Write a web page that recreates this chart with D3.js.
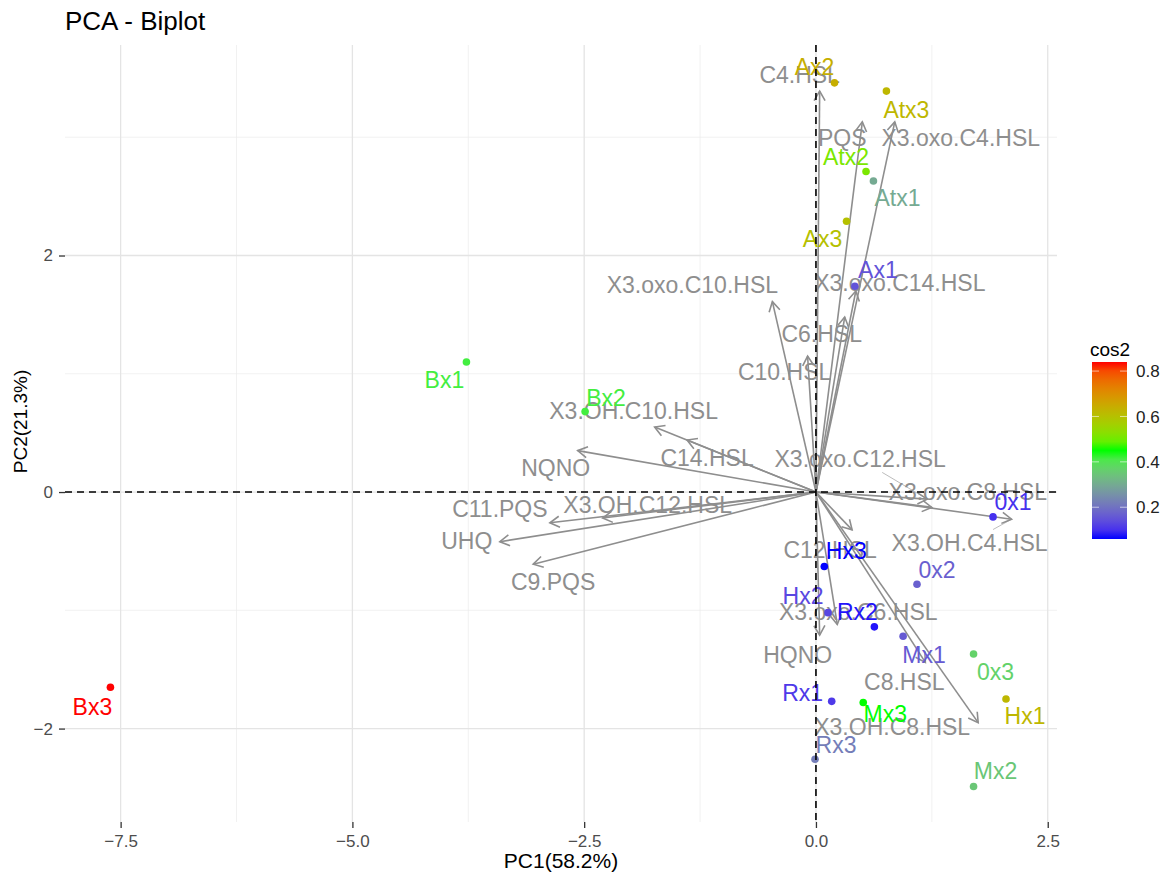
<!DOCTYPE html>
<html>
<head>
<meta charset="utf-8">
<script src="https://cdn.jsdelivr.net/npm/d3@7"></script>
<style>
  html, body { margin: 0; padding: 0; background: #ffffff; }
  svg { display: block; font-family: "Liberation Sans", Arial, sans-serif; }
</style>
</head>
<body>
<svg id="chart" width="1175" height="879"></svg>
<script>
// ---------------- DATA ----------------
const chartTitle = "PCA - Biplot";
const xTitle = "PC1(58.2%)";
const yTitle = "PC2(21.3%)";
const legendTitle = "cos2";

const xTicks = [-7.5, -5.0, -2.5, 0.0, 2.5];
const xMinorTicks = [-6.25, -3.75, -1.25, 1.25];
const yTicks = [-2, 0, 2];
const yMinorTicks = [-1, 1, 3];
const legendTicks = [0.2, 0.4, 0.6, 0.8];

// Variables (arrows)
const varNames = ["C4.HSL", "PQS", "X3.oxo.C4.HSL", "X3.oxo.C10.HSL", "X3.oxo.C14.HSL",
  "C6.HSL", "C10.HSL", "X3.OH.C10.HSL", "C14.HSL", "NQNO", "X3.oxo.C12.HSL",
  "X3.oxo.C8.HSL", "C11.PQS", "X3.OH.C12.HSL", "UHQ", "X3.OH.C4.HSL", "C9.PQS",
  "C12.HSL", "X3.oxo.C6.HSL", "HQNO", "C8.HSL", "X3.OH.C8.HSL"];
const varPC1 = [0.04, 0.50, 0.85, -0.47, 0.43, 0.31, -0.09, -1.74, -1.39, -2.57, 1.20,
  1.25, -2.87, -2.30, -3.41, 2.11, -3.05, 0.39, 0.23, 0.04, 1.18, 1.75];
const varPC2 = [3.39, 3.13, 3.13, 1.61, 1.70, 1.48, 1.15, 0.55, 0.44, 0.35, -0.06,
  -0.13, -0.26, -0.22, -0.42, -0.23, -0.61, -0.32, -1.12, -1.21, -1.44, -1.95];

// Individuals (points)
const indNames = ["Ax2", "Atx3", "Atx2", "Atx1", "Ax3", "Ax1", "Bx1", "Bx2", "Bx3",
  "0x1", "Hx3", "0x2", "Hx2", "Rx2", "Mx1", "0x3", "Hx1", "Rx1", "Mx3", "Rx3", "Mx2"];
const indPC1 = [0.20, 0.76, 0.54, 0.62, 0.33, 0.42, -3.77, -2.49, -7.61,
  1.91, 0.09, 1.09, 0.13, 0.63, 0.94, 1.70, 2.05, 0.17, 0.51, -0.01, 1.70];
const indPC2 = [3.46, 3.39, 2.71, 2.63, 2.29, 1.74, 1.10, 0.68, -1.65,
  -0.21, -0.63, -0.78, -1.02, -1.14, -1.22, -1.37, -1.75, -1.77, -1.78, -2.26, -2.49];
const indCos2 = [0.64, 0.62, 0.51, 0.30, 0.60, 0.15, 0.42, 0.42, 0.84,
  0.10, 0.06, 0.17, 0.13, 0.07, 0.16, 0.37, 0.62, 0.11, 0.45, 0.22, 0.35];

// ---------------- LAYOUT (label nudges, px) ----------------
const varLabelDX = [-20, -20, 66, -80, 44, -23, -23, -21, 20, -22, -67, 36, -50, 45, -33, -42, 20, -22, 21, -22, -21, -86];
const varLabelDY = [-16, 16, 16, -17, -8, 17, 16, -16, 18, 17, -40, -16, -14, -13, -1, 23, 18, 20, -13, 20, 19, 4];
const indLabelDX = [-20, 20, -20, 24, -24, 23, -22, 21, -18, 20, 22, 20, -25, -17, 21, 22, 19, -29, 22, 21, 22];
const indLabelDY = [-16, 19, -15, 17, 18, -17, 18, -14, 20, -15, -16, -15, -17, -15, 18, 18, 17, -9, 11, -15, -16];

const panel = { left: 65, right: 1057, top: 45, bottom: 822 };
const varColor = "#8e8e8e";
const labelFont = 23;

const svg = d3.select("#chart");

const x = d3.scaleLinear().domain([-8.10, 2.60]).range([panel.left, panel.right]);
const y = d3.scaleLinear().domain([-2.79, 3.78]).range([panel.bottom, panel.top]);

const cExt = d3.extent(indCos2);
const cMid = (cExt[0] + cExt[1]) / 2;
const color = d3.scaleLinear()
  .domain([cExt[0], cMid, cExt[1]])
  .range(["#0000FF", "#00FF00", "#FF0000"])
  .interpolate(d3.interpolateLab);

// ---------- grid ----------
const grid = svg.append("g");
grid.selectAll(".vminor").data(xMinorTicks).join("line")
  .attr("x1", d => x(d)).attr("x2", d => x(d))
  .attr("y1", panel.top).attr("y2", panel.bottom)
  .attr("stroke", "#ebebeb").attr("stroke-width", 0.7);
grid.selectAll(".hminor").data(yMinorTicks.filter(d => y(d) >= panel.top)).join("line")
  .attr("x1", panel.left).attr("x2", panel.right)
  .attr("y1", d => y(d)).attr("y2", d => y(d))
  .attr("stroke", "#ebebeb").attr("stroke-width", 0.7);
grid.selectAll(".vmajor").data(xTicks).join("line")
  .attr("x1", d => x(d)).attr("x2", d => x(d))
  .attr("y1", panel.top).attr("y2", panel.bottom)
  .attr("stroke", "#e4e4e4").attr("stroke-width", 1.3);
grid.selectAll(".hmajor").data(yTicks).join("line")
  .attr("x1", panel.left).attr("x2", panel.right)
  .attr("y1", d => y(d)).attr("y2", d => y(d))
  .attr("stroke", "#e4e4e4").attr("stroke-width", 1.3);

// ---------- axes ----------
const xAxis = svg.append("g")
  .attr("transform", `translate(0,${panel.bottom})`)
  .call(d3.axisBottom(x).tickValues(xTicks).tickFormat(d3.format(".1f")).tickSize(6).tickPadding(7));
xAxis.select(".domain").remove();
xAxis.selectAll(".tick line").attr("stroke", "#333").attr("stroke-width", 1.3);
xAxis.selectAll(".tick text").attr("fill", "#4d4d4d").style("font-size", "17px")
  .style("font-family", "'Liberation Sans', Arial, sans-serif");

const yAxis = svg.append("g")
  .attr("transform", `translate(${panel.left},0)`)
  .call(d3.axisLeft(y).tickValues(yTicks).tickFormat(d3.format("d")).tickSize(6).tickPadding(6));
yAxis.select(".domain").remove();
yAxis.selectAll(".tick line").attr("stroke", "#333").attr("stroke-width", 1.3);
yAxis.selectAll(".tick text").attr("fill", "#4d4d4d").style("font-size", "17px")
  .style("font-family", "'Liberation Sans', Arial, sans-serif");

svg.append("text")
  .attr("x", (panel.left + panel.right) / 2).attr("y", 868)
  .attr("text-anchor", "middle").attr("fill", "#000").style("font-size", "21px")
  .text(xTitle);
svg.append("text")
  .attr("transform", `translate(27,${(panel.top + panel.bottom) / 2 - 12}) rotate(-90)`)
  .attr("text-anchor", "middle").attr("fill", "#000").style("font-size", "19px")
  .text(yTitle);
svg.append("text")
  .attr("x", 65).attr("y", 30)
  .attr("fill", "#000").style("font-size", "26px")
  .text(chartTitle);

// ---------- variables ----------
const vars = varNames.map((n, i) => ({ name: n, px: x(varPC1[i]), py: y(varPC2[i]),
  lx: x(varPC1[i]) + varLabelDX[i], ly: y(varPC2[i]) + varLabelDY[i] }));
const ox = x(0), oy = y(0);
const varG = svg.append("g");
const headLen = 11, headAng = Math.PI / 6;
vars.forEach(v => {
  varG.append("line").attr("x1", ox).attr("y1", oy).attr("x2", v.px).attr("y2", v.py)
    .attr("stroke", varColor).attr("stroke-width", 1.6);
  const a = Math.atan2(v.py - oy, v.px - ox);
  const p1 = [v.px - headLen * Math.cos(a - headAng), v.py - headLen * Math.sin(a - headAng)];
  const p2 = [v.px - headLen * Math.cos(a + headAng), v.py - headLen * Math.sin(a + headAng)];
  varG.append("path")
    .attr("d", `M${p1[0]},${p1[1]}L${v.px},${v.py}L${p2[0]},${p2[1]}`)
    .attr("fill", "none").attr("stroke", varColor).attr("stroke-width", 1.6);
});
const varLabels = varG.selectAll(".vlab").data(vars).join("text")
  .attr("x", d => d.lx).attr("y", d => d.ly).attr("dy", "0.36em")
  .attr("text-anchor", "middle").attr("fill", varColor)
  .style("font-size", labelFont + "px").text(d => d.name);
// repel-style connector segments for far-away labels
varLabels.each(function (d) {
  const b = this.getBBox();
  const cx = b.x + b.width / 2, cy = b.y + b.height / 2;
  const dx = cx - d.px, dy = cy - d.py;
  const tx = Math.max((Math.abs(dx) - b.width / 2) / Math.abs(dx || 1), (Math.abs(dy) - b.height / 2) / Math.abs(dy || 1));
  if (tx <= 0) return;
  const ex = d.px + dx * tx, ey = d.py + dy * tx;
  const len = Math.hypot(ex - d.px, ey - d.py);
  if (len > 20) {
    varG.insert("line", ":first-child")
      .attr("x1", d.px).attr("y1", d.py).attr("x2", ex).attr("y2", ey)
      .attr("stroke", varColor).attr("stroke-width", 0.6);
  }
});

// ---------- individuals ----------
const inds = indNames.map((n, i) => ({ name: n, px: x(indPC1[i]), py: y(indPC2[i]), c: color(indCos2[i]),
  lx: x(indPC1[i]) + indLabelDX[i], ly: y(indPC2[i]) + indLabelDY[i] }));
const indG = svg.append("g");
indG.selectAll("circle").data(inds).join("circle")
  .attr("cx", d => d.px).attr("cy", d => d.py).attr("r", 3.8).attr("fill", d => d.c);
indG.selectAll("text").data(inds).join("text")
  .attr("x", d => d.lx).attr("y", d => d.ly).attr("dy", "0.36em")
  .attr("text-anchor", "middle").attr("fill", d => d.c)
  .style("font-size", labelFont + "px").text(d => d.name);

// ---------- reference dashed lines ----------
svg.append("line").attr("x1", panel.left).attr("x2", panel.right).attr("y1", oy).attr("y2", oy)
  .attr("stroke", "#000").attr("stroke-width", 1.6).attr("stroke-dasharray", "7,5");
svg.append("line").attr("x1", ox).attr("x2", ox).attr("y1", panel.top).attr("y2", panel.bottom)
  .attr("stroke", "#000").attr("stroke-width", 1.6).attr("stroke-dasharray", "7,5");

// ---------- legend ----------
const leg = { x: 1092, top: 362, bottom: 539, w: 35 };
const defs = svg.append("defs");
const grad = defs.append("linearGradient").attr("id", "cgrad")
  .attr("x1", "0").attr("y1", "1").attr("x2", "0").attr("y2", "0");
d3.range(0, 1.0001, 0.05).forEach(t => {
  const v = cExt[0] + t * (cExt[1] - cExt[0]);
  grad.append("stop").attr("offset", t).attr("stop-color", color(v));
});
const ly = d3.scaleLinear().domain(cExt).range([leg.bottom, leg.top]);
svg.append("rect").attr("x", leg.x).attr("y", leg.top).attr("width", leg.w)
  .attr("height", leg.bottom - leg.top).attr("fill", "url(#cgrad)");
const lg = svg.append("g");
legendTicks.forEach(t => {
  lg.append("line").attr("x1", leg.x).attr("x2", leg.x + 7).attr("y1", ly(t)).attr("y2", ly(t))
    .attr("stroke", "#fff").attr("stroke-opacity", 0.6).attr("stroke-width", 1);
  lg.append("line").attr("x1", leg.x + leg.w - 7).attr("x2", leg.x + leg.w).attr("y1", ly(t)).attr("y2", ly(t))
    .attr("stroke", "#fff").attr("stroke-opacity", 0.6).attr("stroke-width", 1);
  lg.append("text").attr("x", leg.x + leg.w + 9).attr("y", ly(t)).attr("dy", "0.36em")
    .attr("fill", "#222").style("font-size", "17px").text(d3.format(".1f")(t));
});
svg.append("text").attr("x", 1090).attr("y", 356).attr("fill", "#000")
  .style("font-size", "19px").text(legendTitle);
</script>
</body>
</html>
